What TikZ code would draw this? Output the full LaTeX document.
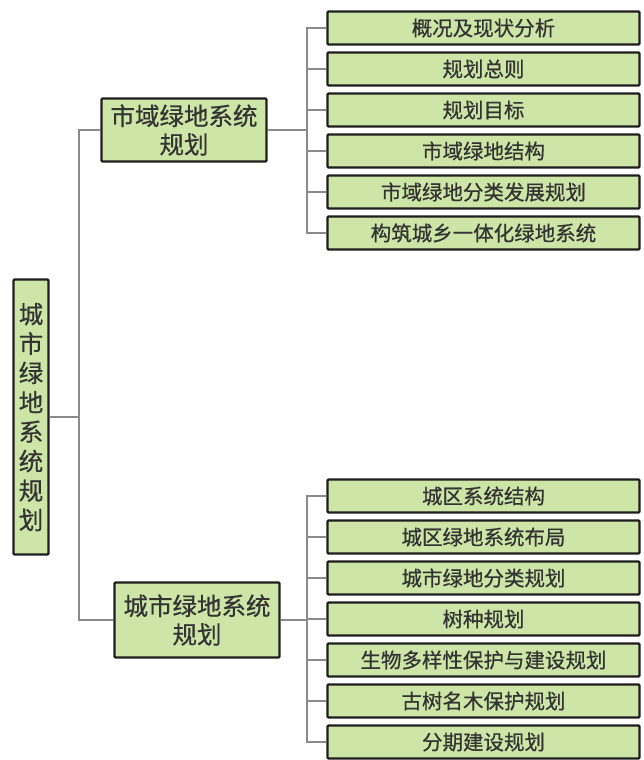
\documentclass[tikz,border=0pt]{standalone}
\usepackage{fontspec}
\newfontfamily\cjk[FakeBold=0.6]{Noto Sans CJK SC}
\definecolor{boxfill}{HTML}{CDE5A6}
\definecolor{boxline}{HTML}{1E1E1E}
\definecolor{linkgray}{HTML}{8A8A8A}
\definecolor{txt}{HTML}{333333}
\begin{document}
\begin{tikzpicture}[x=1pt,y=-1pt,
  gbox/.style={draw=boxline,line width=2.4pt,fill=boxfill,rounded corners=1pt,inner sep=0pt,text=txt,font=\cjk},
  leaf/.style={gbox,minimum width=312pt,minimum height=33pt,font=\cjk\fontsize{20.5}{22}\selectfont},
  midbox/.style={gbox,minimum width=165pt,align=center,font=\cjk\fontsize{24.5}{28.5}\selectfont},
  rootbox/.style={gbox,minimum width=35pt,minimum height=275pt,align=center,font=\cjk\fontsize{24.5}{29.4}\selectfont},
  link/.style={draw=linkgray,line width=1.5pt}]
\useasboundingbox (0,0) rectangle (643,760);

\node[rootbox] (root) at (31,417) {城\\市\\绿\\地\\系\\统\\规\\划};
\node[midbox,minimum height=63pt] (m1) at (184,130) {市域绿地系统\\规划};
\node[midbox,minimum height=75pt] (m2) at (197,620) {城市绿地系统\\规划};

\node[leaf] (t1) at (483.5,28) {概况及现状分析};
\node[leaf] (t2) at (483.5,69) {规划总则};
\node[leaf] (t3) at (483.5,110) {规划目标};
\node[leaf] (t4) at (483.5,151) {市域绿地结构};
\node[leaf] (t5) at (483.5,192) {市域绿地分类发展规划};
\node[leaf] (t6) at (483.5,233) {构筑城乡一体化绿地系统};

\node[leaf] (b1) at (483.5,496) {城区系统结构};
\node[leaf] (b2) at (483.5,537) {城区绿地系统布局};
\node[leaf] (b3) at (483.5,578) {城市绿地分类规划};
\node[leaf] (b4) at (483.5,619) {树种规划};
\node[leaf] (b5) at (483.5,660) {生物多样性保护与建设规划};
\node[leaf] (b6) at (483.5,701) {古树名木保护规划};
\node[leaf] (b7) at (483.5,742) {分期建设规划};

\coordinate (j0) at (79,417);
\coordinate (j1) at (307,130);
\coordinate (j2) at (307,620);

\begin{scope}[on background layer/.try]
\draw[link] (root.east) -- (j0);
\draw[link] (j0) |- (m1.west);
\draw[link] (j0) |- (m2.west);
\draw[link] (m1.east) -- (j1);
\draw[link] (m2.east) -- (j2);
\foreach \n in {t1,t2,t3,t4,t5,t6} {\draw[link] (j1) |- (\n.west);}
\foreach \n in {b1,b2,b3,b4,b5,b6,b7} {\draw[link] (j2) |- (\n.west);}
\end{scope}
\end{tikzpicture}
\end{document}
